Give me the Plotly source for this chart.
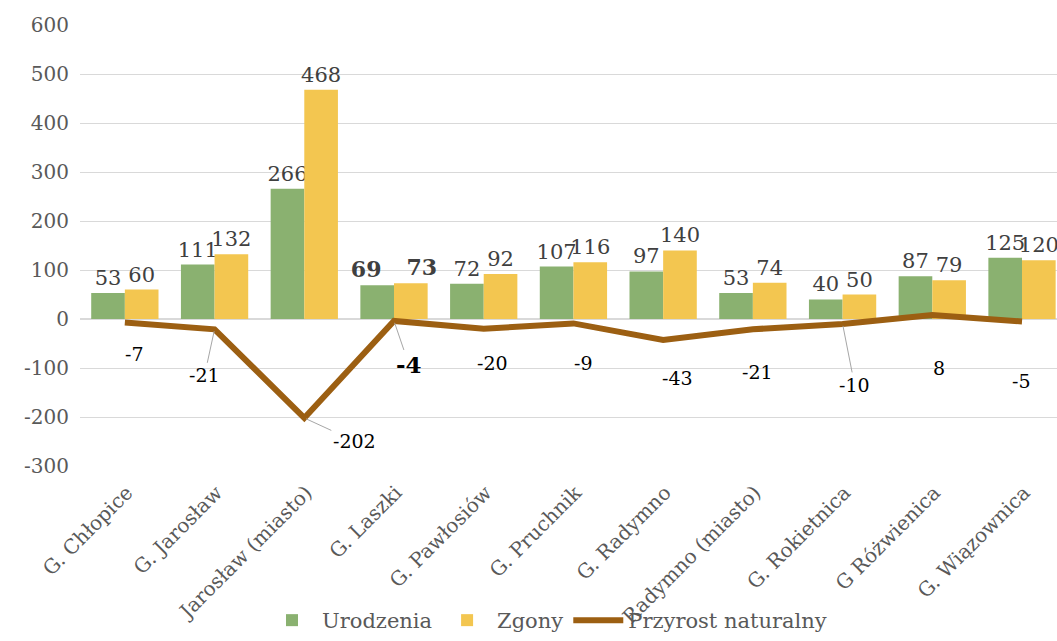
import plotly.graph_objects as go

# ── Data ──────────────────────────────────────────────────────────────────────
GMINY = [
    "G. Chłopice", "G. Jarosław", "Jarosław (miasto)", "G. Laszki",
    "G. Pawłosiów", "G. Pruchnik", "G. Radymno", "Radymno (miasto)",
    "G. Rokietnica", "G Różwienica", "G. Wiązownica",
]
URODZENIA = [53, 111, 266, 69, 72, 107, 97, 53, 40, 87, 125]
ZGONY = [60, 132, 468, 73, 92, 116, 140, 74, 50, 79, 120]
PRZYROST = [-7, -21, -202, -4, -20, -9, -43, -21, -10, 8, -5]
Y_TICKS = [-300, -200, -100, 0, 100, 200, 300, 400, 500, 600]
BOLD_IDX = 3  # G. Laszki labels are emphasised

# ── Style ─────────────────────────────────────────────────────────────────────
FONT = "DejaVu Serif, Cambria, serif"
GREEN = "#8ab170"
YELLOW = "#f3c650"
BROWN = "#9c5f12"
GRID = "#d9d9d9"
TICK = "#595959"
LABEL = "#404040"
PAD = "\u2002\u2002"  # pushes the bold pair of labels apart

# pixel offsets of the line labels (dx, dy) and whether a leader line is drawn
LINE_LABEL_POS = [
    (10, 32, False), (-10, 46, True), (50, 23, True), (15, 44, True),
    (9, 34, False), (10, 40, False), (14, 38, False), (5, 43, False),
    (12, 61, True), (7, 53, False), (-1, 60, False),
]


def bar_text(vals, pad_left):
    out = []
    for i, v in enumerate(vals):
        if i == BOLD_IDX:
            out.append(f"{PAD}<b>{v}</b>" if pad_left else f"<b>{v}</b>{PAD}")
        else:
            out.append(str(v))
    return out


def bar_sizes(vals):
    return [22 if i == BOLD_IDX else 21 for i in range(len(vals))]


fig = go.Figure()
fig.add_trace(go.Bar(
    name="Urodzenia", x=GMINY, y=URODZENIA,
    marker=dict(color=GREEN, line=dict(width=0)),
    text=bar_text(URODZENIA, False), textposition="outside", cliponaxis=False,
    constraintext="none",
    textfont=dict(family=FONT, color=LABEL, size=bar_sizes(URODZENIA)),
))
fig.add_trace(go.Bar(
    name="Zgony", x=GMINY, y=ZGONY,
    marker=dict(color=YELLOW, line=dict(width=0)),
    text=bar_text(ZGONY, True), textposition="outside", cliponaxis=False,
    constraintext="none",
    textfont=dict(family=FONT, color=LABEL, size=bar_sizes(ZGONY)),
))
fig.add_trace(go.Scatter(
    name="Przyrost naturalny", x=GMINY, y=PRZYROST, mode="lines",
    line=dict(color=BROWN, width=6),
))

for i, (g, v) in enumerate(zip(GMINY, PRZYROST)):
    dx, dy, leader = LINE_LABEL_POS[i]
    txt = f"<b>{v}</b>" if i == BOLD_IDX else str(v)
    size = 23 if i == BOLD_IDX else 19
    if leader:
        fig.add_annotation(
            x=g, y=v, text=txt, showarrow=True, arrowhead=0, arrowwidth=1,
            arrowcolor="#a6a6a6", ax=dx, ay=dy, standoff=2,
            font=dict(family=FONT, size=size, color="#000000"),
        )
    else:
        fig.add_annotation(
            x=g, y=v, text=txt, showarrow=False, xshift=dx, yshift=-dy,
            font=dict(family=FONT, size=size, color="#000000"),
        )

fig.update_layout(
    width=1057, height=641,
    margin=dict(l=80, r=0, t=25, b=175),
    paper_bgcolor="white", plot_bgcolor="white",
    font=dict(family=FONT, color=TICK, size=18),
    barmode="group", bargap=0.25, bargroupgap=0,
    showlegend=True,
    legend=dict(orientation="h", x=0.478, xanchor="center", y=-0.397,
                yanchor="bottom", font=dict(size=21, color=TICK),
                bgcolor="rgba(0,0,0,0)", itemwidth=50, traceorder="normal"),
    xaxis=dict(range=[-0.5, 10.39], tickangle=-45, showgrid=False,
               showline=False, ticks="", automargin=False,
               ticklabelstandoff=10, ticklabelshift=2,
               tickfont=dict(size=20, color=TICK)),
    yaxis=dict(range=[-300, 600], tickvals=Y_TICKS,
               ticktext=[str(t) for t in Y_TICKS],
               gridcolor=GRID, gridwidth=1,
               zeroline=True, zerolinecolor=GRID, zerolinewidth=2,
               ticks="", automargin=False, ticklabelstandoff=10,
               tickfont=dict(size=20, color=TICK)),
)

fig.write_html("out.html", config={"displayModeBar": False},
               post_script="document.body.style.margin='0';")
